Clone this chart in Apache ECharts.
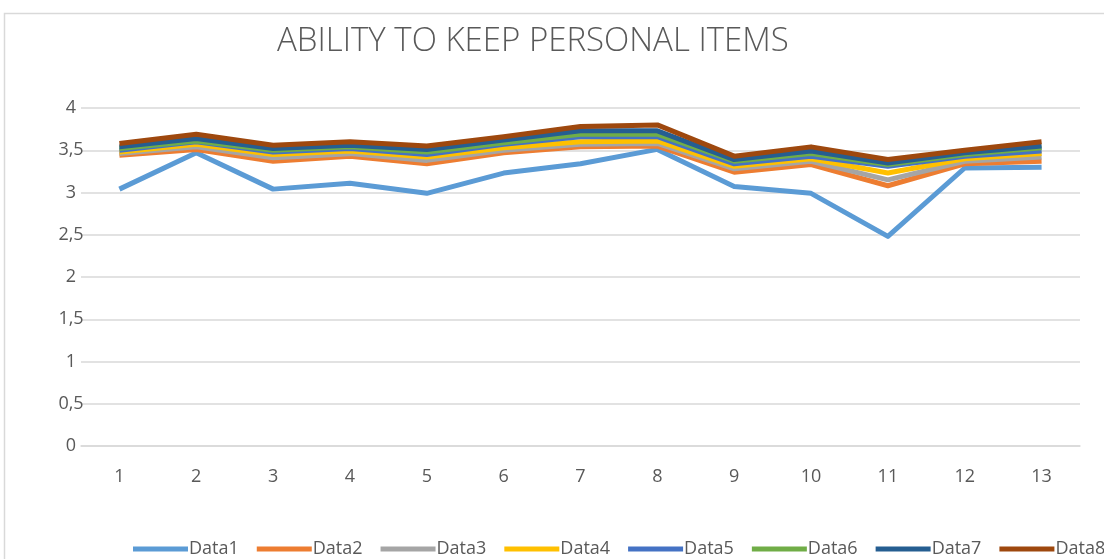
<!DOCTYPE html>
<html>
<head>
<meta charset="utf-8">
<script src="https://cdn.jsdelivr.net/npm/echarts@6/dist/echarts.min.js"></script>
<style>
  html, body { margin: 0; padding: 0; background: #fff; }
</style>
</head>
<body>
<!-- 图表容器 -->
<div id="main" style="width: 1104px;height:559px;"></div>
<script>
    var categories = ['1','2','3','4','5','6','7','8','9','10','11','12','13'];
    var seriesNames = ['Data1','Data2','Data3','Data4','Data5','Data6','Data7','Data8'];
    var data1 = [3.04, 3.47, 3.04, 3.11, 2.99, 3.23, 3.34, 3.51, 3.07, 2.99, 2.48, 3.29, 3.30];
    var data2 = [3.44, 3.51, 3.37, 3.43, 3.34, 3.47, 3.54, 3.55, 3.24, 3.33, 3.08, 3.34, 3.37];
    var data3 = [3.46, 3.54, 3.41, 3.46, 3.38, 3.50, 3.57, 3.58, 3.28, 3.37, 3.15, 3.37, 3.42];
    var data4 = [3.48, 3.57, 3.45, 3.49, 3.42, 3.53, 3.60, 3.61, 3.31, 3.40, 3.23, 3.40, 3.46];
    var data5 = [3.50, 3.60, 3.48, 3.52, 3.45, 3.57, 3.66, 3.66, 3.34, 3.43, 3.31, 3.43, 3.49];
    var data6 = [3.52, 3.61, 3.50, 3.54, 3.48, 3.59, 3.69, 3.69, 3.37, 3.46, 3.33, 3.45, 3.53];
    var data7 = [3.54, 3.64, 3.52, 3.56, 3.51, 3.62, 3.73, 3.73, 3.39, 3.49, 3.35, 3.47, 3.55];
    var data8 = [3.58, 3.69, 3.56, 3.60, 3.55, 3.66, 3.78, 3.80, 3.43, 3.54, 3.39, 3.50, 3.60];
    var allData = [data1, data2, data3, data4, data5, data6, data7, data8];
    var colors = ['#5B9BD5','#ED7D31','#A5A5A5','#FFC000','#4472C4','#70AD47','#255E91','#9E480E'];

    var myChart = echarts.init(document.getElementById('main'));

    var series = [];
    for (var i = 0; i < seriesNames.length; i++) {
        series.push({
            name: seriesNames[i],
            type: 'line',
            data: allData[i],
            symbol: 'none',
            lineStyle: { width: 5, color: colors[i], join: 'round' },
            itemStyle: { color: colors[i] },
            animation: false
        });
    }

    var option = {
        color: colors,
        textStyle: { fontFamily: 'Open Sans' },
        graphic: [{
            type: 'rect',
            shape: { x: 4.5, y: 13.5, width: 1200, height: 600 },
            style: { fill: 'none', stroke: '#d9d9d9', lineWidth: 1.5 },
            silent: true
        }],
        title: {
            text: 'ABILITY TO KEEP PERSONAL ITEMS',
            left: 272,
            top: 20,
            textStyle: { fontSize: 33, fontWeight: 'lighter', color: '#595959', fontFamily: 'Open Sans' }
        },
        legend: {
            data: seriesNames,
            left: 128,
            top: 535,
            width: 1300,
            itemWidth: 55,
            itemHeight: 5,
            itemGap: 18,
            icon: 'rect',
            textStyle: { fontSize: 18, color: '#595959', padding: [0, 0, 0, -4] }
        },
        grid: {
            left: 81,
            right: 24,
            top: 108,
            bottom: 113
        },
        xAxis: {
            type: 'category',
            data: categories,
            boundaryGap: true,
            axisLine: { lineStyle: { color: '#d9d9d9', width: 1.5 } },
            axisTick: { show: false },
            axisLabel: { fontSize: 18, color: '#595959', margin: 22 }
        },
        yAxis: {
            type: 'value',
            min: 0,
            max: 4,
            interval: 0.5,
            axisLine: { show: false },
            axisTick: { show: false },
            splitLine: { lineStyle: { color: '#d9d9d9', width: 1.5 } },
            axisLabel: {
                fontSize: 18,
                color: '#595959',
                margin: 10,
                align: 'center',
                formatter: function (v) { return String(v).replace('.', ','); }
            }
        },
        series: series
    };

    myChart.setOption(option);
</script>
</body>
</html>
